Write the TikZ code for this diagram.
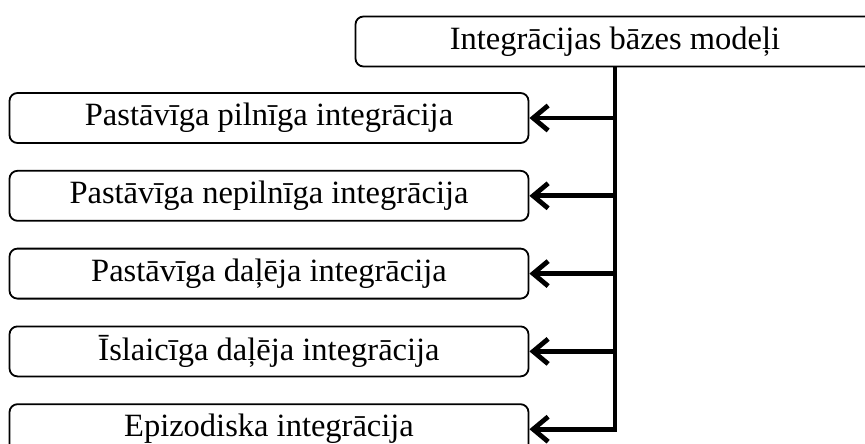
\documentclass[tikz,border=0pt]{standalone}
\usepackage{fontspec}
\setmainfont{Liberation Serif}
\usetikzlibrary{arrows.meta,positioning}

\begin{document}
\begin{tikzpicture}[x=1pt,y=1pt,>={Straight Barb[length=15pt,width=25pt]},
    model/.style={draw,line width=1.8pt,rounded corners=8pt,fill=white,
        minimum width=519pt,minimum height=50pt,inner sep=0pt,
        font=\fontsize{32.5}{38}\selectfont},
    link/.style={line width=4.8pt}]
\path[use as bounding box,clip] (0,0) rectangle (865,-444);

\node[model] (T) at (615,-41.5) {Integrācijas bāzes modeļi};

\node[model] (M1) at (269,-118)      {Pastāvīga pilnīga integrācija};
\node[model] (M2) [below=26 of M1]  {Pastāvīga nepilnīga integrācija};
\node[model] (M3) [below=26 of M2]  {Pastāvīga daļēja integrācija};
\node[model] (M4) [below=26 of M3]  {Īslaicīga daļēja integrācija};
\node[model] (M5) [below=26 of M4]  {Epizodiska integrācija};

\coordinate (J1) at (T.south |- M1);
\coordinate (J2) at (T.south |- M2);
\coordinate (J3) at (T.south |- M3);
\coordinate (J4) at (T.south |- M4);
\coordinate (J5) at (T.south |- M5);

\draw[link,shorten >=-2.4pt] (T.south) -- (J5);

\path (J1) edge[link,->] (M1.east)
      (J2) edge[link,->] (M2.east)
      (J3) edge[link,->] (M3.east)
      (J4) edge[link,->] (M4.east)
      (J5) edge[link,->] (M5.east);
\end{tikzpicture}
\end{document}
